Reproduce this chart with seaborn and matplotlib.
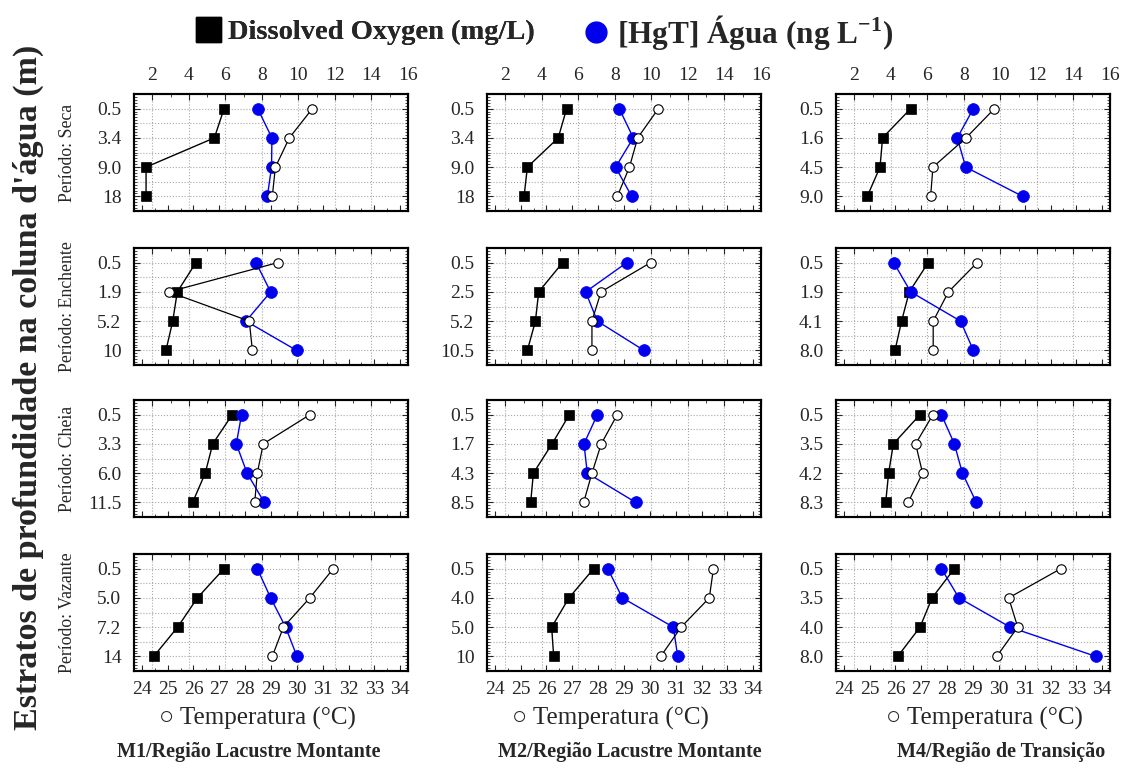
import numpy as np
import matplotlib
matplotlib.use("Agg")
import matplotlib.pyplot as plt
from matplotlib.lines import Line2D
from matplotlib.ticker import MultipleLocator
import seaborn as sns

# ---- data (rows = periods, cols = sites) ----
periods = ["Seca", "Enchente", "Cheia", "Vazante"]
sites = ["M1/Região Lacustre Montante", "M2/Região Lacustre Montante", "M4/Região de Transição"]

depth_labels = [
    [["0.5", "3.4", "9.0", "18"], ["0.5", "3.4", "9.0", "18"], ["0.5", "1.6", "4.5", "9.0"]],
    [["0.5", "1.9", "5.2", "10"], ["0.5", "2.5", "5.2", "10.5"], ["0.5", "1.9", "4.1", "8.0"]],
    [["0.5", "3.3", "6.0", "11.5"], ["0.5", "1.7", "4.3", "8.5"], ["0.5", "3.5", "4.2", "8.3"]],
    [["0.5", "5.0", "7.2", "14"], ["0.5", "4.0", "5.0", "10"], ["0.5", "3.5", "4.0", "8.0"]],
]

# dissolved oxygen (mg/L), top axis
do_vals = [
    [[5.93, 5.40, 1.66, 1.66], [5.36, 4.90, 3.21, 3.03], [5.09, 3.55, 3.41, 2.71]],
    [[4.39, 3.37, 3.12, 2.75], [5.14, 3.83, 3.65, 3.21], [6.05, 5.01, 4.59, 4.23]],
    [[6.38, 5.31, 4.90, 4.21], [5.51, 4.56, 3.54, 3.39], [5.60, 4.14, 3.88, 3.72]],
    [[5.93, 4.47, 3.39, 2.08], [6.84, 5.49, 4.54, 4.65], [7.48, 6.26, 5.60, 4.38]],
]

# [HgT] water (ng/L), top axis
hg_vals = [
    [[7.77, 8.55, 8.53, 8.30], [8.24, 9.01, 8.04, 8.92], [8.52, 7.64, 8.10, 11.22]],
    [[7.68, 8.48, 7.13, 9.90], [8.65, 6.40, 7.04, 9.59], [4.16, 5.09, 7.82, 8.52]],
    [[6.89, 6.60, 7.19, 8.13], [7.04, 6.31, 6.49, 9.14], [6.77, 7.48, 7.92, 8.68]],
    [[7.75, 8.48, 9.30, 9.92], [7.61, 8.41, 11.20, 11.44], [6.77, 7.73, 10.53, 15.22]],
]

# temperature (°C), bottom axis
temp_vals = [
    [[30.60, 29.71, 29.17, 29.05], [30.33, 29.53, 29.21, 28.74], [29.83, 28.73, 27.45, 27.36]],
    [[29.26, 25.05, 28.16, 28.28], [30.03, 28.11, 27.76, 27.76], [29.16, 28.05, 27.46, 27.46]],
    [[30.51, 28.70, 28.47, 28.37], [28.74, 28.12, 27.76, 27.44], [27.45, 26.78, 27.05, 26.49]],
    [[31.41, 30.50, 29.48, 29.05], [32.46, 32.30, 31.21, 30.42], [32.40, 30.38, 30.73, 29.92]],
]

sns.set_style("ticks")
plt.rcParams["font.family"] = ["Liberation Serif", "DejaVu Serif"]
plt.rcParams["mathtext.fontset"] = "custom"
plt.rcParams["mathtext.rm"] = "Liberation Serif"
plt.rcParams["mathtext.bf"] = "Liberation Serif:bold"

FW, FH = 1140, 769
fig = plt.figure(figsize=(FW / 100, FH / 100), dpi=100)

col_left = [134, 487, 836]
row_top = [94, 248, 400, 554]
W, H = 274, 117
BLUE = "#0000ee"
grid_kw = dict(linestyle=":", color="#a8a8a8", linewidth=0.8)

for r in range(4):
    for c in range(3):
        ax = fig.add_axes([col_left[c] / FW, 1 - (row_top[r] + H) / FH, W / FW, H / FH])
        ax2 = ax.twiny()
        pos = np.arange(4)

        sns.lineplot(x=do_vals[r][c], y=pos, ax=ax, sort=False, estimator=None,
                     color="black", marker="s", markersize=7.8, markeredgecolor="black",
                     markeredgewidth=0.5, linewidth=1.0, legend=False, zorder=3)
        sns.lineplot(x=hg_vals[r][c], y=pos, ax=ax, sort=False, estimator=None,
                     color=BLUE, marker="o", markersize=8.5, markeredgecolor=BLUE,
                     markeredgewidth=0.5, linewidth=1.0, legend=False, zorder=3)
        sns.lineplot(x=temp_vals[r][c], y=pos, ax=ax2, sort=False, estimator=None,
                     color="black", marker="o", markersize=6.8, markerfacecolor="white",
                     markeredgecolor="black", markeredgewidth=0.8, linewidth=0.9,
                     legend=False, zorder=3)

        ax.set_xlim(1, 16)
        ax2.set_xlim(23.7, 34.3)
        ax.set_ylim(3.5, -0.5)
        ax.set_xlabel("")
        ax.set_ylabel("")
        ax2.set_xlabel("")

        ax.xaxis.tick_top()
        ax2.xaxis.tick_bottom()
        ax.xaxis.set_major_locator(MultipleLocator(2))
        ax.xaxis.set_minor_locator(MultipleLocator(1))
        ax2.xaxis.set_major_locator(MultipleLocator(1))
        ax2.xaxis.set_minor_locator(MultipleLocator(0.5))
        ax.set_yticks(pos)
        ax.set_yticklabels(depth_labels[r][c])
        ax.yaxis.set_minor_locator(MultipleLocator(0.1))

        ax.tick_params(axis="x", which="both", direction="in", top=True, bottom=False,
                       labeltop=(r == 0), labelbottom=False, labelsize=14, pad=7)
        ax2.tick_params(axis="x", which="both", direction="in", bottom=True, top=False,
                        labelbottom=(r == 3), labeltop=False, labelsize=14, pad=7)
        ax.tick_params(axis="y", which="both", direction="in", left=True, right=True,
                       labelsize=14, pad=9)
        ax.tick_params(which="major", length=4, width=0.8)
        ax.tick_params(which="minor", length=2, width=0.6)
        ax2.tick_params(which="major", length=4, width=0.8)
        ax2.tick_params(which="minor", length=2, width=0.6)

        ax.grid(True, axis="x", which="major", **grid_kw)
        ax.grid(True, axis="y", which="major", **grid_kw)
        for h in (0.5, 1.5, 2.5):
            ax.axhline(h, zorder=0, **grid_kw)
        ax.set_axisbelow(True)

        for a in (ax, ax2):
            for s in a.spines.values():
                s.set_linewidth(1.5)
                s.set_color("black")

for r, p in enumerate(periods):
    yc = 1 - (row_top[r] + H / 2) / FH
    fig.text(68 / FW, yc, f"Período: {p}", rotation=90, ha="center", va="center", fontsize=12.8)

for c, s in enumerate(sites):
    fig.text([257, 610, 984][c] / FW, 1 - 718 / FH, "○ Temperatura (°C)",
             ha="center", va="center", fontsize=18)
    fig.text([249, 630, 1001][c] / FW, 1 - 752 / FH, s, ha="center", va="center",
             fontsize=14.5, fontweight="bold")

fig.text(28 / FW, 1 - 387 / FH, "Estratos de profundidade na coluna d'água (m)",
         rotation=90, ha="center", va="center", fontsize=24.5, fontweight="bold")

leg_kw = dict(loc="center left", frameon=False, handlelength=0.8, handletextpad=0.3,
              borderpad=0, borderaxespad=0)
leg1 = fig.legend([Line2D([], [], linestyle="none", marker="s", markersize=18, color="black")],
                  ["Dissolved Oxygen (mg/L)"], bbox_to_anchor=(197 / FW, 1 - 32 / FH),
                  prop=dict(size=20.5, weight="bold"), **leg_kw)
fig.add_artist(leg1)
fig.legend([Line2D([], [], linestyle="none", marker="o", markersize=15, color=BLUE)],
           [r"[HgT] Água (ng L$^{\mathbf{-1}}$)"], bbox_to_anchor=(583 / FW, 1 - 32 / FH),
           prop=dict(size=22.5, weight="bold"), **leg_kw)

fig.savefig("out.png", dpi=100)
